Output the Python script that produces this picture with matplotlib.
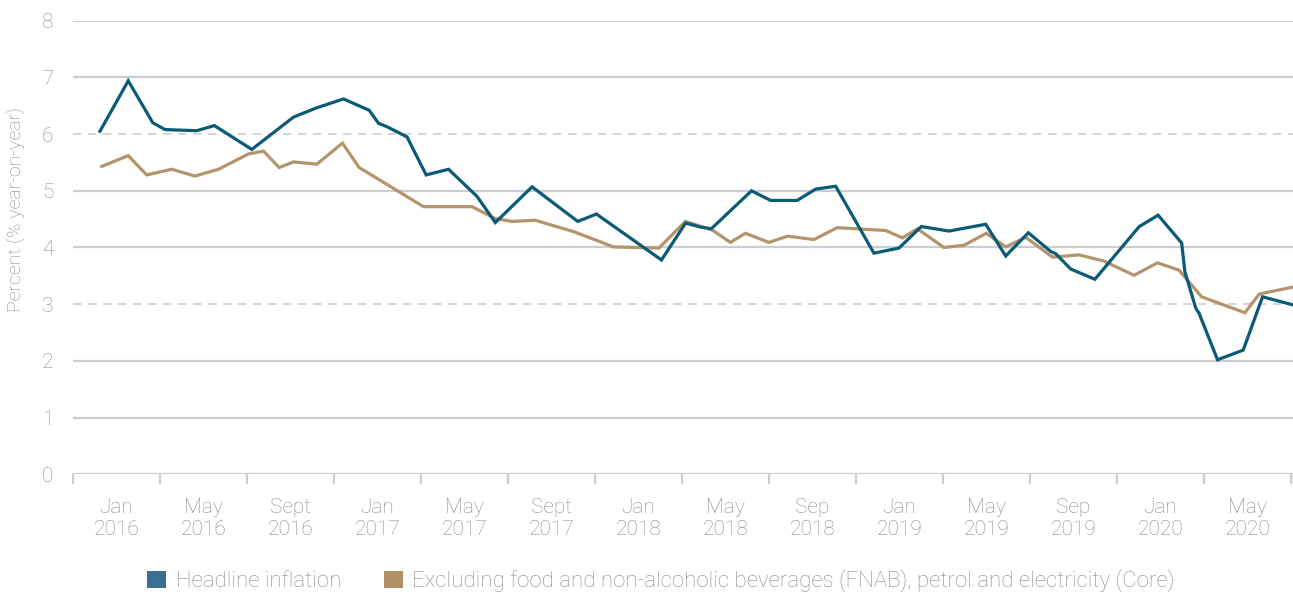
import matplotlib.pyplot as plt
from matplotlib.patches import Patch
from matplotlib.ticker import FixedLocator, NullFormatter

plt.rcParams['font.family'] = ['Roboto', 'DejaVu Sans']
plt.rcParams['font.weight'] = 'light'

# x positions are months counted from the start of Jan 2016
headline_t = [1.24, 2.54, 3.67, 4.23, 5.69, 6.50, 8.22, 10.14, 11.18, 12.44, 13.62, 14.05,
              14.44, 15.36, 16.24, 17.27, 18.58, 19.42, 21.11, 23.21, 24.07, 27.06, 28.17,
              28.86, 29.35, 31.20, 32.08, 33.30, 34.15, 35.07, 36.83, 37.98, 39.01, 40.28,
              41.97, 42.89, 43.93, 44.96, 45.19, 45.88, 46.99, 49.03, 49.90, 50.98, 51.13,
              51.63, 51.78, 52.63, 53.81, 54.70, 56.08]
headline = [6.05, 6.94, 6.20, 6.08, 6.06, 6.15, 5.73, 6.30, 6.46, 6.62, 6.42, 6.19,
            6.13, 5.95, 5.28, 5.38, 4.90, 4.44, 5.07, 4.46, 4.59, 3.78, 4.43,
            4.36, 4.33, 5.00, 4.83, 4.83, 5.03, 5.08, 3.90, 3.99, 4.37, 4.29,
            4.41, 3.85, 4.26, 3.93, 3.89, 3.62, 3.44, 4.37, 4.57, 4.08, 3.57,
            2.93, 2.84, 2.02, 2.19, 3.13, 2.99]

core_t = [1.32, 2.54, 3.39, 4.54, 5.61, 6.69, 8.07, 8.76, 9.48, 10.14, 11.21, 12.39,
          13.16, 16.12, 18.35, 19.42, 20.19, 21.26, 23.02, 24.86, 26.94, 28.16, 29.39,
          30.23, 30.92, 32.00, 32.87, 34.07, 35.14, 37.37, 38.14, 38.83, 40.05, 40.97,
          42.00, 42.89, 43.81, 45.04, 46.26, 47.41, 48.79, 49.87, 50.86, 51.90, 53.89,
          54.55, 56.08]
core = [5.43, 5.62, 5.28, 5.38, 5.26, 5.38, 5.65, 5.70, 5.41, 5.51, 5.47, 5.84,
        5.41, 4.72, 4.72, 4.51, 4.46, 4.48, 4.28, 4.01, 3.99, 4.46, 4.31,
        4.09, 4.25, 4.09, 4.20, 4.14, 4.35, 4.30, 4.17, 4.33, 4.00, 4.04,
        4.25, 4.01, 4.18, 3.83, 3.87, 3.76, 3.51, 3.73, 3.60, 3.13, 2.85,
        3.18, 3.30]

period_labels = ["Jan\n2016", "May\n2016", "Sept\n2016", "Jan\n2017", "May\n2017",
                 "Sept\n2017", "Jan\n2018", "May\n2018", "Sep\n2018", "Jan\n2019",
                 "May\n2019", "Sep\n2019", "Jan\n2020", "May\n2020"]

blue = "#0b5a78"
tan = "#b3946b"
grid = "#c9cdd4"
txt = "#838e93"

fig = plt.figure(figsize=(12.93, 5.97), dpi=100)
ax = fig.add_axes([73 / 1293, 1 - 474.3 / 597, 1 - 73 / 1293, (474.3 - 20.7) / 597])

for v in range(0, 9):
    if v in (3, 6):
        ax.axhline(v, color=grid, lw=1.2, ls=(0, (5, 4)), zorder=1)
    else:
        ax.axhline(v, color=grid, lw=1.6, zorder=1)

ax.plot(core_t, core, color=tan, lw=2.3, solid_joinstyle='miter', zorder=3)
ax.plot(headline_t, headline, color=blue, lw=2.3, solid_joinstyle='miter', zorder=4)

ax.set_xlim(0, 56.1)
ax.set_ylim(0, 8)
for s in ax.spines.values():
    s.set_visible(False)

ax.set_yticks(range(0, 9))
ax.tick_params(axis='y', length=0, pad=14, labelsize=15, labelcolor=txt)

n = len(period_labels)
ax.xaxis.set_major_locator(FixedLocator([4 * i for i in range(n + 1)]))
ax.xaxis.set_major_formatter(NullFormatter())
ax.xaxis.set_minor_locator(FixedLocator([4 * i + 2 for i in range(n)]))
ax.set_xticklabels(period_labels, minor=True)
ax.tick_params(axis='x', which='major', length=7, width=1.6, color=grid, direction='out')
ax.tick_params(axis='x', which='minor', length=0, pad=17, labelsize=15, labelcolor=txt)

fig.text(17 / 1293, 1 - 210 / 597, "Percent (% year-on-year)", rotation=90,
         ha='center', va='center', fontsize=14, color=txt)

handles = [Patch(facecolor="#3a6f8f"), Patch(facecolor="#b38f65")]
labels = ["Headline inflation",
          "Excluding food and non-alcoholic beverages (FNAB), petrol and electricity (Core)"]
leg = fig.legend(handles, labels, loc='center', bbox_to_anchor=(661 / 1293, 1 - 581 / 597),
                 ncol=2, frameon=False, handlelength=0.85, handleheight=0.85,
                 handletextpad=0.45, columnspacing=1.9, fontsize=16)
for t in leg.get_texts():
    t.set_color(txt)

fig.savefig("out.png", dpi=100)
